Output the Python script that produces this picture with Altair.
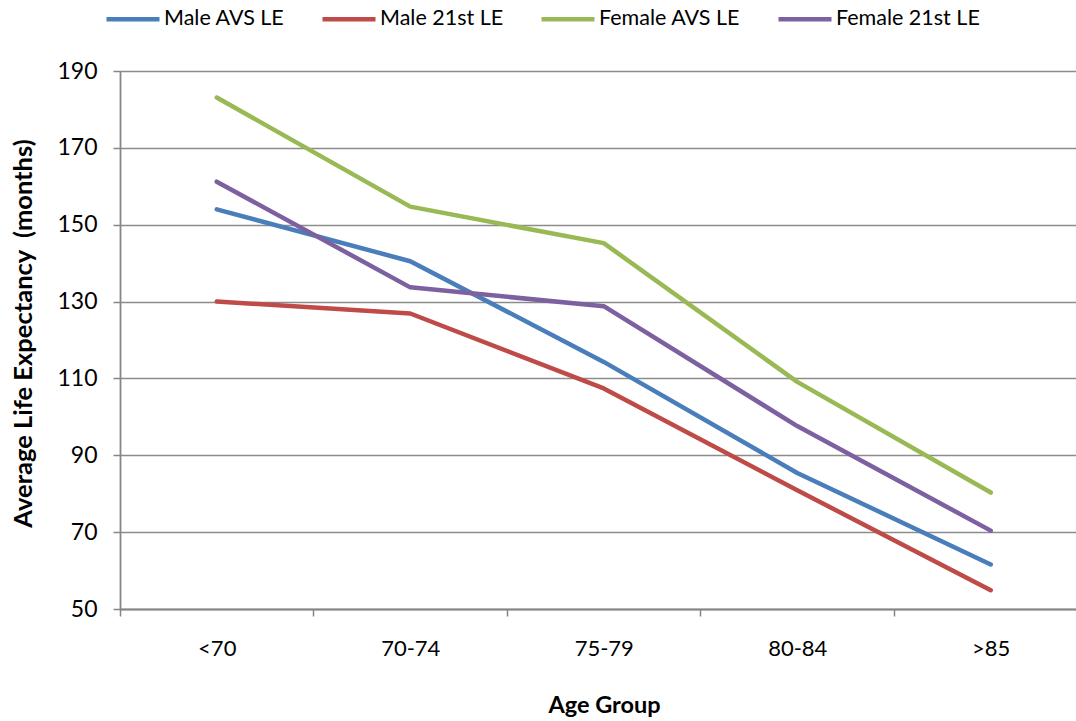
import altair as alt
import pandas as pd

categories = ["<70", "70-74", "75-79", "80-84", ">85"]
series_names = ["Male AVS LE", "Male 21st LE", "Female AVS LE", "Female 21st LE"]
male_avs = [154.0, 140.5, 114.3, 85.4, 61.6]
male_21st = [130.0, 126.9, 107.4, 80.9, 54.9]
female_avs = [183.1, 154.7, 145.2, 109.1, 80.3]
female_21st = [161.2, 133.7, 128.8, 97.6, 70.4]
colors = ["#4A7EBB", "#BE4B48", "#98B954", "#7D60A0"]
y_ticks = [50, 70, 90, 110, 130, 150, 170, 190]

rows = []
for name, vals in zip(series_names, [male_avs, male_21st, female_avs, female_21st]):
    for i, (cat, v) in enumerate(zip(categories, vals)):
        rows.append({"series": name, "age": cat, "idx": i, "value": v})
df = pd.DataFrame(rows)

FONT = "Lato"
cat_js = "[" + ",".join("'" + c + "'" for c in categories) + "]"
x_vals = [-0.5, 0, 0.5, 1, 1.5, 2, 2.5, 3, 3.5, 4]

chart = alt.Chart(df).mark_line(strokeWidth=4.5, strokeCap="round", strokeJoin="round").encode(
    x=alt.X("idx:Q",
            scale=alt.Scale(domain=[-0.5, 4.4406], nice=False, zero=False),
            axis=alt.Axis(
                values=x_vals,
                labelExpr=f"datum.value % 1 === 0 ? {cat_js}[datum.value] : ''",
                title="Age Group",
                titleFont=FONT, titleFontSize=23.5, titleFontWeight="bold", titleColor="black",
                titleX=484, titleY=96, titleBaseline="middle",
                labelFont=FONT, labelFontSize=22, labelColor="black",
                labelPadding=22, labelOverlap=False, labelFlush=False,
                tickSize=7, tickColor="#868686", tickWidth=1.5,
                tickOpacity={"condition": {"test": "datum.value % 1 === 0", "value": 0}, "value": 1},
                domainColor="#868686", domainWidth=1.8,
                grid=False,
            )),
    y=alt.Y("value:Q",
            scale=alt.Scale(domain=[50, 190], nice=False, zero=False),
            axis=alt.Axis(
                values=y_ticks,
                title="Average Life Expectancy \u00a0(months)",
                titleFont=FONT, titleFontSize=25.5, titleFontWeight="bold", titleColor="black",
                titleAngle=-90, titleX=-97, titleY=262, titleBaseline="middle", titleAlign="center",
                labelFont=FONT, labelFontSize=23, labelColor="black",
                labelPadding=16,
                tickSize=7, tickColor="#868686", tickWidth=1.5,
                domainColor="#868686", domainWidth=1.8,
                grid=True, gridColor="#8c8c8c", gridWidth=1.4,
            )),
    color=alt.Color("series:N",
                    sort=series_names,
                    scale=alt.Scale(domain=series_names, range=colors),
                    legend=alt.Legend(
                        title=None, orient="none", direction="horizontal",
                        legendX=-16, legendY=-81,
                        symbolType="stroke", symbolSize=2809, symbolStrokeWidth=4.5,
                        labelFont=FONT, labelFontSize=21.5, labelColor="black",
                        labelOffset=2, columnPadding=28,
                    )),
    detail="series:N",
).properties(
    width=956,
    height=538,
    autosize=alt.AutoSizeParams(type="none"),
    padding={"left": 120, "top": 71, "right": 0, "bottom": 111},
).configure_view(stroke=None).configure(background="white")

chart.save("out.html", embed_options={"renderer": "svg", "actions": False})
